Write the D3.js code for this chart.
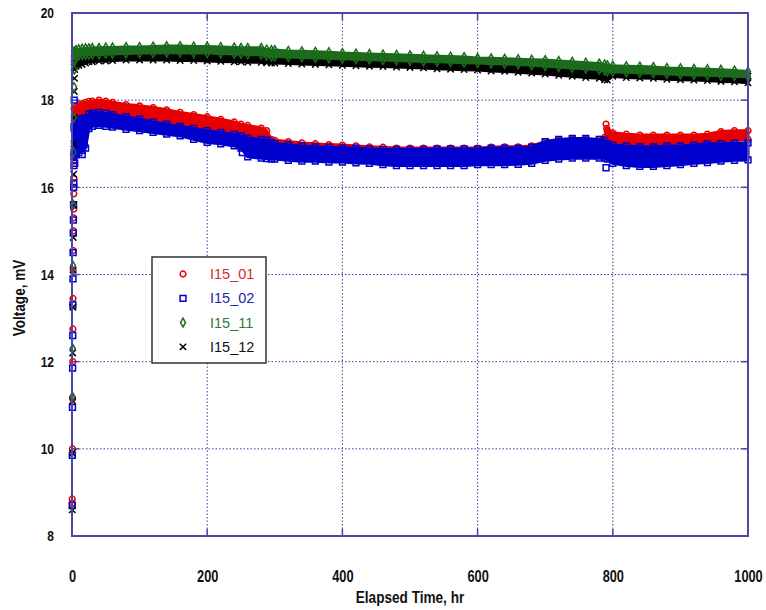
<!DOCTYPE html>
<html>
<head>
<meta charset="utf-8">
<script src="https://cdn.jsdelivr.net/npm/d3@7"></script>
<style>
  html, body { margin: 0; padding: 0; background: #fff; }
  svg { display: block; }
  .tick-label { font-family: "Liberation Sans", Arial, sans-serif; font-weight: bold; fill: #111; }
  .axis-title { font-family: "Liberation Sans", Arial, sans-serif; font-weight: bold; font-size: 17px; fill: #111; }
  .legend-text { font-family: "Liberation Sans", Arial, sans-serif; font-size: 14.5px; }
</style>
</head>
<body>
<svg id="chart" width="766" height="610"></svg>
<script>
// ---- data (voltage in mV vs elapsed time in hr) ----
const seriesNames = ["I15_01", "I15_02", "I15_11", "I15_12"];
const xTicks = [0, 200, 400, 600, 800, 1000];
const yTicks = [8, 10, 12, 14, 16, 18, 20];

// sampling times of the steady-state readings
const bandTime = [3, 6, 10, 15, 20, 25, 30, 40, 50, 60, 80, 100, 120, 140, 160, 180, 200, 220, 240, 250, 260, 280, 288, 295, 300,
  320, 340, 360, 380, 400, 420, 440, 460, 480, 500, 520, 540, 560, 580, 600, 620, 640, 660, 680, 700, 720, 740, 760, 780,
  788, 792, 800, 820, 840, 860, 880, 900, 920, 940, 960, 980, 1000];

// lower / upper spread of the readings at each sampling time
const s01Lo = [17.30, 17.45, 17.50, 17.55, 17.60, 17.60, 17.62, 17.62, 17.60, 17.58, 17.53, 17.50, 17.45, 17.40, 17.36, 17.33, 17.30, 17.25, 17.20, 17.15, 17.12, 17.08, 17.05, 16.98, 16.97,
  16.93, 16.90, 16.88, 16.86, 16.85, 16.83, 16.82, 16.80, 16.80, 16.80, 16.80, 16.80, 16.80, 16.80, 16.80, 16.80, 16.82, 16.83, 16.85, 16.90, 16.92, 16.93, 16.93, 16.95,
  16.97, 17.00, 17.00, 16.98, 16.98, 16.97, 16.97, 16.98, 16.98, 17.00, 17.05, 17.08, 17.10];
const s01Hi = [17.80, 17.85, 17.90, 17.92, 17.95, 17.97, 17.98, 18.00, 17.98, 17.95, 17.90, 17.87, 17.83, 17.78, 17.72, 17.67, 17.62, 17.56, 17.50, 17.45, 17.42, 17.36, 17.30, 17.10, 17.08,
  17.05, 17.02, 17.00, 16.98, 16.97, 16.95, 16.93, 16.92, 16.90, 16.90, 16.90, 16.90, 16.90, 16.90, 16.90, 16.92, 16.93, 16.93, 16.95, 17.05, 17.08, 17.10, 17.10, 17.10,
  17.15, 17.30, 17.25, 17.22, 17.20, 17.20, 17.20, 17.20, 17.20, 17.22, 17.28, 17.30, 17.30];

const s02Lo = [16.70, 16.75, 16.80, 16.85, 16.90, 17.35, 17.40, 17.42, 17.40, 17.38, 17.33, 17.30, 17.26, 17.22, 17.18, 17.10, 17.03, 17.00, 16.95, 16.90, 16.70, 16.67, 16.66, 16.65, 16.65,
  16.62, 16.60, 16.60, 16.58, 16.58, 16.56, 16.55, 16.52, 16.50, 16.50, 16.50, 16.50, 16.50, 16.50, 16.52, 16.52, 16.52, 16.53, 16.55, 16.62, 16.65, 16.67, 16.67, 16.67,
  16.67, 16.65, 16.55, 16.50, 16.48, 16.48, 16.50, 16.52, 16.55, 16.57, 16.60, 16.62, 16.63];
const s02Hi = [17.40, 17.50, 17.55, 17.58, 17.60, 17.68, 17.70, 17.72, 17.70, 17.67, 17.62, 17.57, 17.50, 17.45, 17.40, 17.35, 17.30, 17.26, 17.22, 17.18, 17.13, 17.10, 17.08, 17.03, 17.00,
  16.98, 16.95, 16.93, 16.92, 16.90, 16.90, 16.88, 16.87, 16.87, 16.87, 16.87, 16.88, 16.88, 16.88, 16.88, 16.90, 16.90, 16.90, 16.92, 17.05, 17.10, 17.12, 17.12, 17.10,
  17.08, 17.00, 16.97, 16.95, 16.93, 16.93, 16.95, 16.95, 16.97, 17.00, 17.00, 17.02, 17.02];

const s11Lo = [18.95, 19.00, 19.02, 19.03, 19.04, 19.04, 19.05, 19.05, 19.06, 19.06, 19.07, 19.08, 19.08, 19.09, 19.09, 19.08, 19.08, 19.07, 19.06, 19.06, 19.05, 19.04, 19.02, 19.00, 19.00,
  18.99, 18.98, 18.97, 18.96, 18.95, 18.94, 18.93, 18.92, 18.91, 18.90, 18.89, 18.88, 18.87, 18.86, 18.85, 18.84, 18.83, 18.82, 18.80, 18.78, 18.76, 18.74, 18.72, 18.70,
  18.68, 18.66, 18.65, 18.64, 18.63, 18.62, 18.60, 18.59, 18.58, 18.57, 18.56, 18.55, 18.54];
const s11Hi = [19.12, 19.15, 19.17, 19.18, 19.19, 19.19, 19.20, 19.20, 19.21, 19.21, 19.22, 19.22, 19.23, 19.24, 19.24, 19.23, 19.23, 19.22, 19.21, 19.20, 19.20, 19.20, 19.16, 19.15, 19.15,
  19.13, 19.12, 19.11, 19.10, 19.08, 19.07, 19.06, 19.05, 19.04, 19.03, 19.02, 19.01, 19.00, 18.99, 18.97, 18.96, 18.95, 18.94, 18.93, 18.92, 18.90, 18.88, 18.86, 18.84,
  18.82, 18.80, 18.79, 18.78, 18.77, 18.76, 18.74, 18.73, 18.72, 18.71, 18.70, 18.68, 18.66];

const s12Lo = [18.75, 18.78, 18.80, 18.82, 18.85, 18.88, 18.88, 18.90, 18.90, 18.91, 18.92, 18.92, 18.92, 18.92, 18.91, 18.91, 18.90, 18.89, 18.88, 18.88, 18.87, 18.87, 18.86, 18.85, 18.85,
  18.84, 18.83, 18.82, 18.81, 18.80, 18.79, 18.78, 18.77, 18.76, 18.75, 18.74, 18.72, 18.71, 18.70, 18.69, 18.67, 18.66, 18.64, 18.62, 18.60, 18.57, 18.55, 18.52, 18.50,
  18.47, 18.46, 18.55, 18.52, 18.51, 18.50, 18.48, 18.47, 18.46, 18.45, 18.43, 18.42, 18.40];
const s12Hi = [18.95, 18.98, 19.00, 19.02, 19.05, 19.07, 19.08, 19.08, 19.09, 19.09, 19.10, 19.10, 19.10, 19.10, 19.10, 19.09, 19.08, 19.07, 19.06, 19.06, 19.05, 19.05, 19.04, 19.03, 19.02,
  19.01, 19.00, 18.99, 18.99, 18.98, 18.97, 18.96, 18.95, 18.94, 18.93, 18.92, 18.91, 18.90, 18.88, 18.87, 18.86, 18.85, 18.83, 18.82, 18.80, 18.78, 18.76, 18.74, 18.72,
  18.70, 18.66, 18.70, 18.68, 18.67, 18.66, 18.65, 18.62, 18.61, 18.60, 18.58, 18.57, 18.55];

// start-up readings (first hours, voltage still rising)
const s01StartT = [0.3, 0.5, 0.7, 0.9, 1.1, 1.3, 1.5, 1.7, 1.9, 2.1, 2.3, 2.5, 2.7, 2.9, 3.1, 3.3, 3.5];
const s01StartV = [8.85, 8.75, 10.0, 11.15, 12.0, 12.75, 13.45, 14.1, 14.55, 15.0, 15.3, 15.5, 15.85, 16.2, 16.6, 17.0, 17.3];
const s02StartT = [0.3, 0.5, 0.7, 0.9, 1.1, 1.3, 1.5, 1.7, 1.9, 2.1, 2.3, 2.5, 2.7, 2.9, 3.1, 3.3];
const s02StartV = [8.7, 9.85, 10.95, 11.85, 12.6, 13.3, 13.9, 14.5, 14.95, 15.25, 15.6, 16.0, 16.1, 16.5, 16.8, 18.0];
const s11StartT = [0.6, 1.0, 1.4, 1.8, 2.2, 2.6, 3.0, 3.4, 3.8];
const s11StartV = [11.2, 12.3, 14.2, 15.6, 16.8, 17.6, 18.3, 18.7, 18.9];
const s12StartT = [0.4, 0.6, 0.8, 1.0, 1.3, 1.6, 1.9, 2.2, 2.5, 2.8, 3.1, 3.4, 3.7, 4.0];
const s12StartV = [8.6, 9.9, 11.1, 12.2, 13.25, 14.1, 14.85, 15.6, 16.3, 17.0, 17.6, 18.2, 18.5, 18.7];

// isolated readings away from the main band
const s01StrayT = [790, 791, 792];
const s01StrayV = [17.45, 17.35, 17.28];
const s02StrayT = [4, 6, 9, 12, 15, 18, 252, 790];
const s02StrayV = [16.55, 16.75, 16.9, 16.95, 16.75, 17.0, 16.8, 16.45];

// ---- layout ----
const svg = d3.select("#chart");
const plotLeft = 72, plotRight = 748, plotTop = 13, plotBottom = 536;
const x = d3.scaleLinear().domain([0, 1000]).range([plotLeft, plotRight]);
const y = d3.scaleLinear().domain([8, 20]).range([plotBottom, plotTop]);
const frameColor = "#4b47a6";
const gridColor = "#3d3a9c";
const narrow = 0.8;   // horizontal squeeze giving a narrow bold face

// dotted grid
const grid = svg.append("g");
grid.selectAll(".gx").data(xTicks.slice(1, -1)).join("line")
  .attr("x1", d => x(d)).attr("x2", d => x(d)).attr("y1", plotTop).attr("y2", plotBottom)
  .attr("stroke", gridColor).attr("stroke-width", 1).attr("stroke-dasharray", "1.5,2");
grid.selectAll(".gy").data(yTicks.slice(1, -1)).join("line")
  .attr("y1", d => y(d)).attr("y2", d => y(d)).attr("x1", plotLeft).attr("x2", plotRight)
  .attr("stroke", gridColor).attr("stroke-width", 1).attr("stroke-dasharray", "1.5,2");

// inward tick marks on all four sides
const tickLen = 7;
const tickMarks = svg.append("g").attr("stroke", frameColor).attr("stroke-width", 1.5);
xTicks.slice(1, -1).forEach(d => {
  tickMarks.append("line").attr("x1", x(d)).attr("x2", x(d)).attr("y1", plotBottom).attr("y2", plotBottom - tickLen);
  tickMarks.append("line").attr("x1", x(d)).attr("x2", x(d)).attr("y1", plotTop).attr("y2", plotTop + tickLen);
});
yTicks.slice(1, -1).forEach(d => {
  tickMarks.append("line").attr("y1", y(d)).attr("y2", y(d)).attr("x1", plotLeft).attr("x2", plotLeft + tickLen);
  tickMarks.append("line").attr("y1", y(d)).attr("y2", y(d)).attr("x1", plotRight).attr("x2", plotRight - tickLen);
});

// series
const colors = { s01: "#e60000", s02: "#0000cc", s11: "#1c6b1c", s12: "#000000" };
const series = [
  { key: "s01", lo: s01Lo, hi: s01Hi, st: s01StartT, sv: s01StartV, xt: s01StrayT, xv: s01StrayV, sym: d3.symbolCircle, size: 26 },
  { key: "s02", lo: s02Lo, hi: s02Hi, st: s02StartT, sv: s02StartV, xt: s02StrayT, xv: s02StrayV, sym: d3.symbolSquare, size: 34 },
  { key: "s12", lo: s12Lo, hi: s12Hi, st: s12StartT, sv: s12StartV, xt: [], xv: [], sym: d3.symbolTimes, size: 28 },
  { key: "s11", lo: s11Lo, hi: s11Hi, st: s11StartT, sv: s11StartV, xt: [], xv: [], sym: d3.symbolDiamond, size: 22 }
];

const plot = svg.append("g");
series.forEach(s => {
  const c = colors[s.key];
  const rows = bandTime.map((t, i) => ({ t, lo: s.lo[i], hi: s.hi[i] }));
  // dense band of overlapping readings
  plot.append("path").datum(rows)
    .attr("d", d3.area().x(d => x(d.t)).y0(d => y(d.lo)).y1(d => y(d.hi)))
    .attr("fill", c).attr("stroke", c).attr("stroke-width", 3).attr("stroke-linejoin", "round");
  const sym = d3.symbol().type(s.sym).size(s.size);
  const pts = [];
  rows.forEach(r => { pts.push([r.t, r.lo]); pts.push([r.t, r.hi]); });
  s.st.forEach((t, i) => pts.push([t, s.sv[i]]));
  s.xt.forEach((t, i) => pts.push([t, s.xv[i]]));
  plot.selectAll(null).data(pts).join("path")
    .attr("d", sym)
    .attr("transform", d => `translate(${x(d[0])},${y(d[1])})`)
    .attr("fill", "none").attr("stroke", c).attr("stroke-width", 1.5);
});

// frame
svg.append("rect").attr("x", plotLeft).attr("y", plotTop).attr("width", plotRight - plotLeft).attr("height", plotBottom - plotTop)
  .attr("fill", "none").attr("stroke", frameColor).attr("stroke-width", 2);

// tick labels
const xAxis = svg.append("g").attr("transform", `translate(0,${plotBottom})`)
  .call(d3.axisBottom(x).tickValues(xTicks).tickSize(0).tickPadding(35).tickFormat(d3.format("d")));
xAxis.select(".domain").remove();
xAxis.attr("font-size", null).attr("font-family", null);
xAxis.selectAll("text").attr("class", "tick-label").style("font-size", "16px")
  .attr("transform", `scale(${narrow},1)`);

const yAxis = svg.append("g").attr("transform", `translate(${plotLeft},0)`)
  .call(d3.axisLeft(y).tickValues(yTicks).tickSize(0).tickPadding(18 / narrow).tickFormat(d3.format("d")));
yAxis.select(".domain").remove();
yAxis.attr("font-size", null).attr("font-family", null);
yAxis.selectAll("text").attr("class", "tick-label").style("font-size", "15px")
  .attr("transform", `scale(${narrow},1)`);

// axis titles
svg.append("text").attr("class", "axis-title")
  .attr("transform", `translate(${(plotLeft + plotRight) / 2},603) scale(${narrow},1)`)
  .attr("text-anchor", "middle").text("Elapsed Time, hr");
svg.append("text").attr("class", "axis-title")
  .attr("transform", `translate(25,298) rotate(-90) scale(${narrow},1)`)
  .attr("text-anchor", "middle").text("Voltage, mV");

// legend
const legend = svg.append("g");
legend.append("rect").attr("x", 152).attr("y", 257).attr("width", 114).attr("height", 106)
  .attr("fill", "#fff").attr("stroke", "#333").attr("stroke-width", 1.5);
const legendColors = ["#d42a2a", "#2424b0", "#2d7a3a", "#111"];
const legendSyms = [d3.symbolCircle, d3.symbolSquare, d3.symbolDiamond, d3.symbolTimes];
const legendSize = [26, 34, 22, 28];
const legendStroke = [colors.s01, colors.s02, colors.s11, colors.s12];
seriesNames.forEach((name, i) => {
  const ly = 274 + i * 24.3;
  legend.append("path").attr("d", d3.symbol().type(legendSyms[i]).size(legendSize[i]))
    .attr("transform", `translate(183,${ly})`).attr("fill", "none")
    .attr("stroke", legendStroke[i]).attr("stroke-width", 1.5);
  legend.append("text").attr("class", "legend-text").attr("x", 210).attr("y", ly + 5)
    .attr("fill", legendColors[i]).text(name);
});
</script>
</body>
</html>
